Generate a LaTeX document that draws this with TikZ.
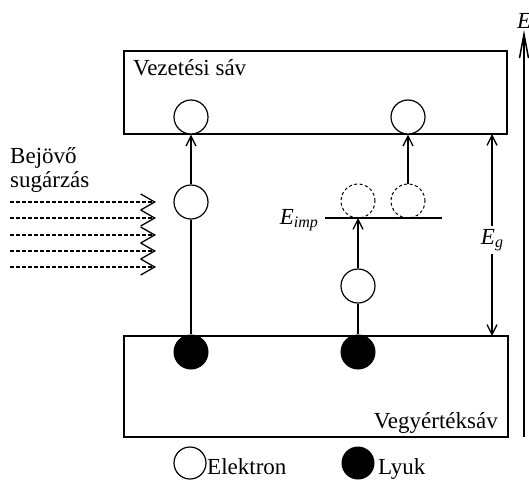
\documentclass[tikz,border=0pt]{standalone}
\usepackage{fontspec}
\setmainfont{Liberation Serif}
\usetikzlibrary{arrows.meta}
\newcommand{\lvl}[2]{\textit{#1}\raisebox{-0.3ex}{\fontsize{16}{18}\selectfont\textit{#2}}}
\begin{document}
\begin{tikzpicture}[x=1pt,y=-1pt,
  font=\fontsize{23}{27}\selectfont,
  band/.style={draw,line width=1.3pt,rectangle,inner sep=0pt},
  elec/.style={circle,draw,fill=white,line width=1.2pt,minimum size=34pt,inner sep=0pt},
  hole/.style={circle,fill=black,minimum size=35pt,inner sep=0pt},
  ghost/.style={circle,draw,dash pattern=on 3pt off 2.5pt,line width=1pt,minimum size=34pt,inner sep=0pt},
  jump/.style={line width=1.4pt,-{Straight Barb[length=10pt,width=10pt,line width=1.3pt]}},
  stem/.style={line width=1.4pt},
  ray/.style={line width=1.5pt,dash pattern=on 4pt off 2pt,-{Straight Barb[length=14pt,width=16pt,line width=1.3pt]}},
  lbl/.style={inner sep=0pt,anchor=base west}]
\useasboundingbox (0,0) rectangle (529,479);

% bands
\node[band,minimum width=383pt,minimum height=83pt] (cb) at (315.5,92.5) {};
\node[band,minimum width=384pt,minimum height=101pt] (vb) at (316,386.5) {};
\node[lbl] (cbt) at (133,75) {Vezetési sáv};
\node[inner sep=0pt,anchor=base east] (vbt) at (498,428) {Vegyértéksáv};

% energy axis
\coordinate (ax0) at (524,437);
\coordinate (ax1) at (524,30);
\draw[line width=2pt,-{Straight Barb[length=24pt,width=9pt,line width=1.5pt]}] (ax0) -- (ax1);
\node[lbl] (axl) at (517,28) {\itshape E};

% band gap
\coordinate (g0) at (492,134);
\coordinate (g1) at (492,336);
\node[fill=white,inner sep=3pt] (eg) at (492,240) {\lvl{E}{g}};
\draw[jump] (eg.north) -- (g0);
\draw[jump] (eg.south) -- (g1);

% impurity level
\coordinate (i0) at (325,218);
\coordinate (i1) at (442,218);
\coordinate (ia) at (358,218);
\draw[line width=1.3pt] (i0) -- (i1);
\node[anchor=base east,inner sep=0pt] (eil) at (318,224) {\lvl{E}{imp}};

% carriers
\node[elec] (e1) at (191,117) {};
\node[elec] (e2) at (408,117) {};
\node[elec] (e3) at (191,202) {};
\node[elec] (e4) at (358,286) {};
\node[ghost] (d1) at (358,201) {};
\node[ghost] (d2) at (408,201) {};
\node[hole] (h1) at (191,352) {};
\node[hole] (h2) at (358,352) {};

% transitions
\draw[stem] (h1) -- (e3);
\draw[jump] (e3) -- (e1);
\draw[stem] (h2) -- (e4);
\draw[jump] (e4) -- (ia);
\draw[jump] (d2) -- (e2);

% incoming radiation
\node[lbl] (rt1) at (10,163) {Bejövő};
\node[lbl] (rt2) at (10,187) {sugárzás};
\foreach \i/\y in {1/202,2/218,3/235,4/251,5/267}{
  \coordinate (r\i a) at (10,\y);
  \coordinate (r\i b) at (156,\y);
  \draw[ray] (r\i a) -- (r\i b);
}

% legend
\node[elec,minimum size=32pt] (le) at (190,463) {};
\node[lbl] (let) at (207,474) {Elektron};
\node[hole,minimum size=33pt] (lh) at (358,463) {};
\node[lbl] (lht) at (378,474) {Lyuk};
\end{tikzpicture}
\end{document}
